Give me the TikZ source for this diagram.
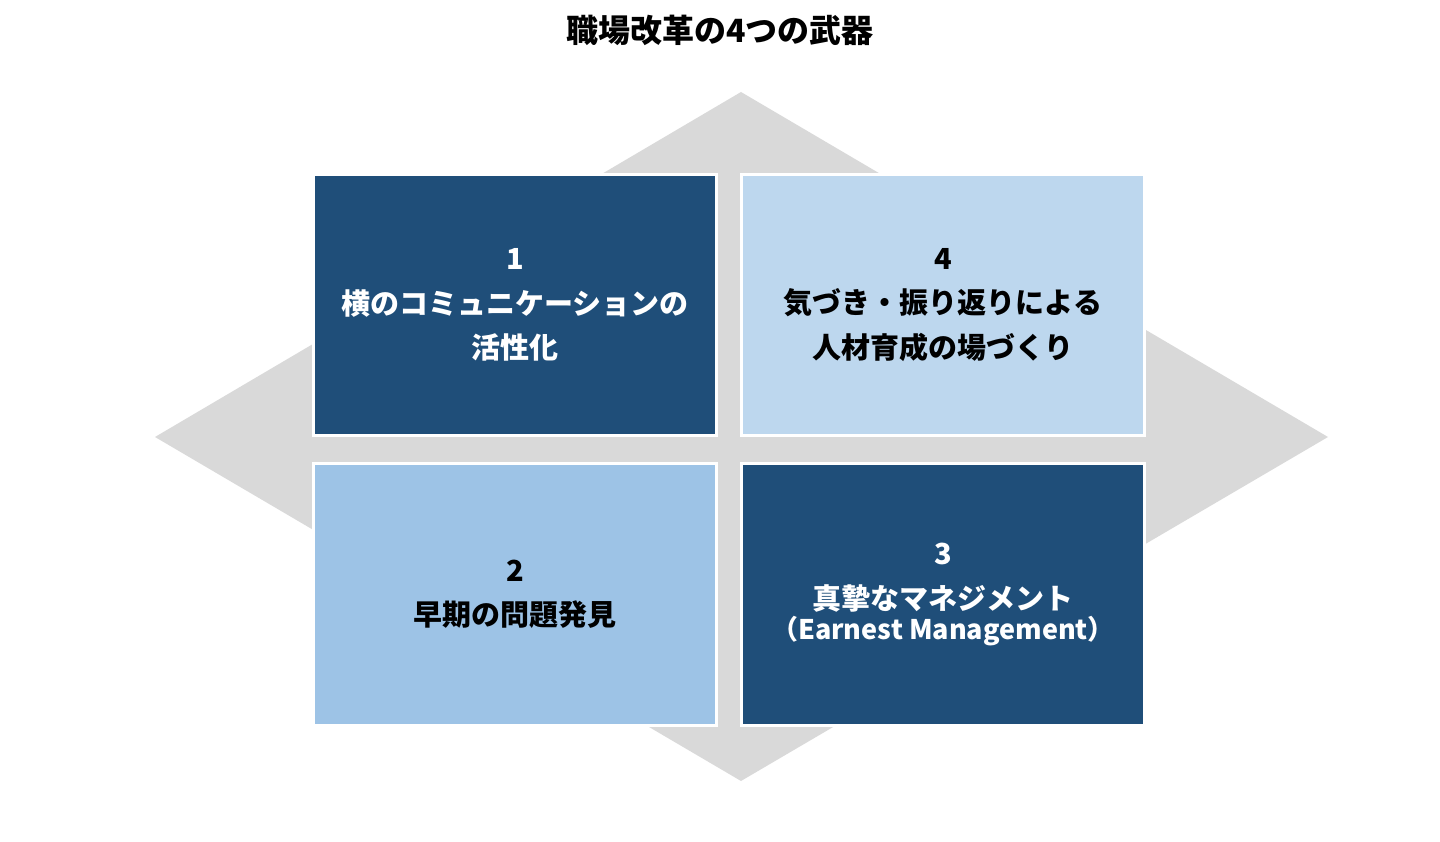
\documentclass[tikz,border=0pt]{standalone}
\usepackage{fontspec}
\setmainfont{Noto Sans CJK JP}
\usetikzlibrary{positioning}
\definecolor{navy}{HTML}{1F4E79}
\definecolor{paleblue}{HTML}{BDD7EE}
\definecolor{skyblue}{HTML}{9DC3E6}
\definecolor{backgray}{HTML}{D9D9D9}
\tikzset{
    quad/.style={
        rectangle,
        draw=white,
        line width=3pt,
        minimum width=403pt,
        minimum height=261pt,
        inner sep=0pt,
        align=center,
        font=\fontsize{29}{44.5}\selectfont\bfseries
    },
    darkquad/.style={quad, fill=navy, text=white},
    lightquad/.style={quad, fill=#1, text=black}
}

\begin{document}
\begin{tikzpicture}[
    x=1pt,
    y=1pt
]
    \useasboundingbox (0,0) rectangle (1440,841);

    % Titulo
    \node[font=\fontsize{32}{36}\selectfont\bfseries] (title) at (720,811) {職場改革の4つの武器};

    % Rombo de fondo
    \coordinate (top)    at (741,749);
    \coordinate (right)  at (1328,404);
    \coordinate (bottom) at (741,60);
    \coordinate (left)   at (155,404);
    \fill[backgray] (top) -- (right) -- (bottom) -- (left) -- cycle;

    % Cuadrantes
    \node[darkquad]            (q1) at (515,536)   {1\\横のコミュニケーションの\\活性化};
    \node[lightquad=paleblue]  (q4) at (943,536)   {4\\気づき・振り返りによる\\人材育成の場づくり};
    \node[lightquad=skyblue]   (q2) at (515,246.5) {2\\早期の問題発見};
    \node[darkquad]            (q3) at (943,246.5)
        {3\\真摯なマネジメント\\[-14pt]{\fontsize{27}{30}\selectfont （Earnest Management）}};

\end{tikzpicture}
\end{document}
